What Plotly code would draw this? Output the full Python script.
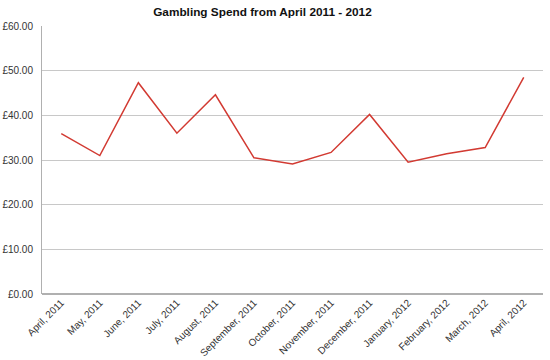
import plotly.graph_objects as go

months = ["April, 2011", "May, 2011", "June, 2011", "July, 2011", "August, 2011",
          "September, 2011", "October, 2011", "November, 2011", "December, 2011",
          "January, 2012", "February, 2012", "March, 2012", "April, 2012"]
spend = [35.9, 31.0, 47.3, 36.0, 44.6, 30.5, 29.1, 31.7, 40.2, 29.5, 31.4, 32.8, 48.5]
y_ticks = [0, 10, 20, 30, 40, 50, 60]
y_tick_labels = ["£0.00", "£10.00", "£20.00", "£30.00", "£40.00", "£50.00", "£60.00"]

fig = go.Figure()
fig.add_trace(go.Scatter(x=months, y=spend, mode="lines",
                         line=dict(color="#d23a32", width=1.5)))

fig.update_layout(
    width=550, height=360,
    margin=dict(l=42, r=7, t=26, b=66, autoexpand=False),
    paper_bgcolor="white", plot_bgcolor="white",
    showlegend=False,
    font=dict(family="Liberation Sans, Arial, sans-serif", size=10, color="#333"),
    title=dict(text="<b>Gambling Spend from April 2011 - 2012</b>",
               x=0.44, xanchor="center", xref="paper",
               y=0.967, yanchor="middle", yref="container",
               automargin=False, pad=dict(t=0, b=0),
               font=dict(size=11.8, color="#111")),
)
fig.update_xaxes(type="category", tickangle=-45, showgrid=False,
                 showline=False, ticks="", tickfont=dict(size=10),
                 range=[-0.5, 12.5], automargin=False)
fig.update_yaxes(range=[0, 60], tickvals=y_ticks, ticktext=y_tick_labels,
                 showgrid=True, gridcolor="#c8c8c8", gridwidth=1,
                 showline=True, linecolor="#b0b0b0", ticks="",
                 zeroline=True, zerolinecolor="#b0b0b0",
                 ticklabelstandoff=6,
                 tickfont=dict(size=10), automargin=False)

fig.write_html("out.html", config={"displayModeBar": False},
               post_script="document.body.style.margin='0';document.body.style.padding='0';")
